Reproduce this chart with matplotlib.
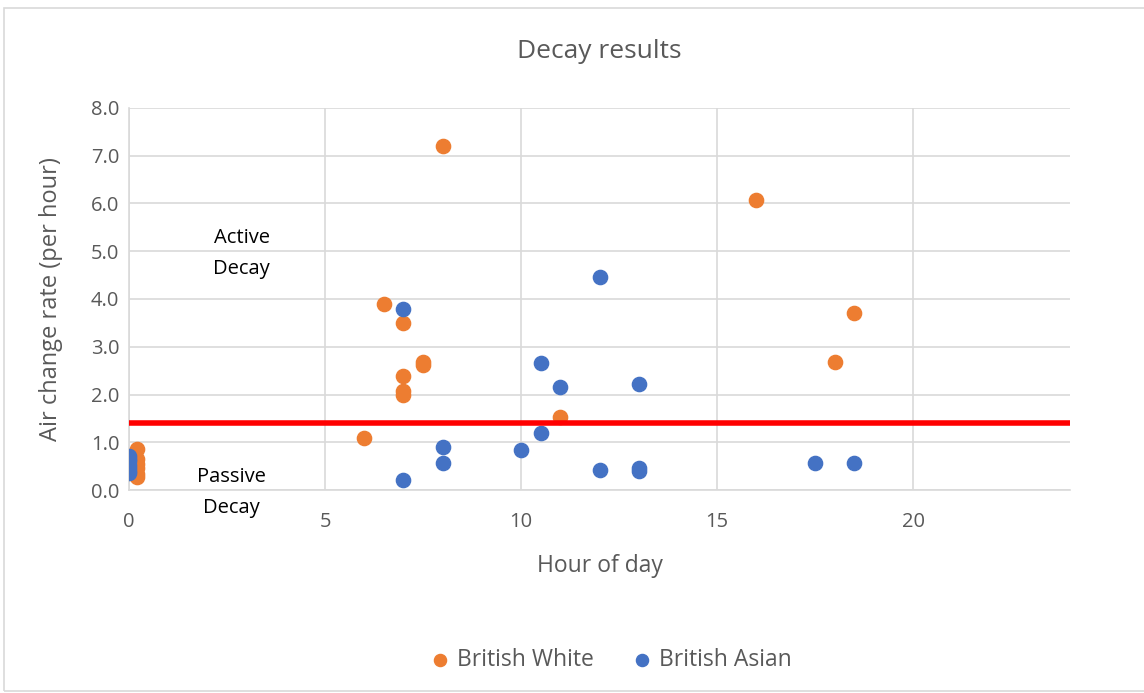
import numpy as np
import matplotlib.pyplot as plt
from matplotlib.patches import Rectangle

# hour of day / air change rate for each group
white_hour = [8, 16, 6.5, 7, 18.5, 7.5, 7.5, 7, 7, 7, 18, 11, 6,
              0.2, 0.2, 0.2, 0.2, 0.2, 0.2]
white_rate = [7.2, 6.07, 3.9, 3.5, 3.7, 2.68, 2.62, 2.38, 2.07, 2.0, 2.68, 1.53, 1.09,
              0.86, 0.65, 0.55, 0.46, 0.33, 0.27]
asian_hour = [7, 12, 10.5, 11, 13, 10.5, 10, 8, 8, 7, 12, 13, 13, 17.5, 18.5,
              0, 0, 0, 0, 0, 0, 0]
asian_rate = [3.79, 4.46, 2.66, 2.16, 2.22, 1.19, 0.84, 0.9, 0.56, 0.21, 0.42, 0.46, 0.4, 0.56, 0.56,
              0.72, 0.66, 0.6, 0.53, 0.47, 0.4, 0.35]
threshold = 1.4

plt.rcParams['font.family'] = ['Open Sans', 'DejaVu Sans']
grey = '#595959'

fig = plt.figure(figsize=(11.44, 6.93), dpi=100)
ax = fig.add_axes([0.1128, 0.2929, 0.8225, 0.5513])

# outer chart border
fig.patches.append(Rectangle((4/1144, 0.003), 1.2, 0.985, transform=fig.transFigure,
                             fill=False, edgecolor='#d9d9d9', lw=1.2))

ax.scatter(white_hour, white_rate, s=105, color='#ed7d31', label='British White', zorder=3)
ax.scatter(asian_hour, asian_rate, s=105, color='#4472c4', label='British Asian', zorder=3)
ax.axhline(threshold, color='#ff0000', lw=4, zorder=4)

ax.set_xlim(0, 24)
ax.set_ylim(0, 8)
ax.set_xticks([0, 5, 10, 15, 20])
ax.set_yticks(np.arange(0, 9, 1))
ax.set_yticklabels([f'{v:.1f}' for v in np.arange(0, 9, 1)])
ax.grid(True, color='#d9d9d9', lw=1.2)
ax.set_axisbelow(True)
for side in ['top', 'right']:
    ax.spines[side].set_visible(False)
for side in ['left', 'bottom']:
    ax.spines[side].set_color('#d9d9d9')
    ax.spines[side].set_linewidth(1.2)
ax.tick_params(length=0, labelsize=14.5, colors=grey)
ax.tick_params(axis='y', pad=7)
ax.tick_params(axis='x', pad=16)

ax.set_title('Decay results', fontsize=19, color=grey, pad=36)
ax.set_xlabel('Hour of day', fontsize=16.5, color=grey, labelpad=16)
ax.set_ylabel('Air change rate (per hour)', fontsize=17, color=grey, labelpad=20)

ax.text(2.87, 4.96, 'Active\nDecay', ha='center', va='center', fontsize=14.5,
        color='black', linespacing=1.75)
ax.text(2.6, -0.05, 'Passive\nDecay', ha='center', va='center', fontsize=14.5,
        color='black', linespacing=1.75, clip_on=False)

ax.legend(loc='center', bbox_to_anchor=(0.505, -0.445), ncol=2, frameon=False,
          fontsize=16.5, labelcolor=grey, handletextpad=-0.25, columnspacing=1.1,
          markerscale=0.85)

fig.savefig('out.png', dpi=100)
